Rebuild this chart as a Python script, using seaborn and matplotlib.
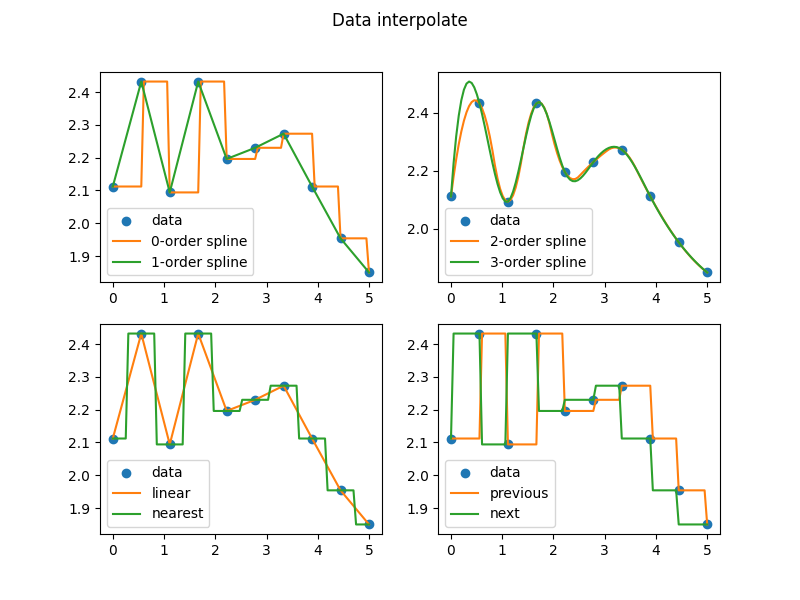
import numpy as np
import pandas as pd
import matplotlib
matplotlib.use('Agg')
import matplotlib.pyplot as plt
import seaborn as sns

# data points
x_data = [0.0, 0.5556, 1.1111, 1.6667, 2.2222, 2.7778, 3.3333, 3.8889, 4.4444, 5.0]
y_data = [2.112, 2.432, 2.094, 2.432, 2.196, 2.230, 2.273, 2.112, 1.954, 1.850]

x = np.array(x_data)
y = np.array(y_data)
xnew = np.linspace(x[0], x[-1], 100)


def bspline_basis(t, k, xs):
    B = np.zeros((len(xs), len(t) - 1))
    last = 0
    for i in range(len(t) - 1):
        if t[i] < t[i + 1]:
            B[:, i] = (xs >= t[i]) & (xs < t[i + 1])
            last = i
    B[xs >= t[-1], last] = 1.0
    for d in range(1, k + 1):
        Bn = np.zeros((len(xs), len(t) - 1 - d))
        for i in range(len(t) - 1 - d):
            left = t[i + d] - t[i]
            right = t[i + d + 1] - t[i + 1]
            term = np.zeros(len(xs))
            if left > 0:
                term += (xs - t[i]) / left * B[:, i]
            if right > 0:
                term += (t[i + d + 1] - xs) / right * B[:, i + 1]
            Bn[:, i] = term
        B = Bn
    return B


def spline(k):
    if k == 2:
        mid = (x[1:] + x[:-1]) / 2
        t = np.r_[(x[0],) * 3, mid[1:-1], (x[-1],) * 3]
    else:
        t = np.r_[(x[0],) * 4, x[2:-2], (x[-1],) * 4]
    c = np.linalg.solve(bspline_basis(t, k, x), y)
    return bspline_basis(t, k, xnew) @ c


idx_prev = np.clip(np.searchsorted(x, xnew, side='right') - 1, 0, len(x) - 1)
idx_next = np.clip(np.searchsorted(x, xnew, side='left'), 0, len(x) - 1)
mids = (x[1:] + x[:-1]) / 2
idx_near = np.searchsorted(mids, xnew, side='left')

curves = {
    '0-order spline': y[idx_prev],
    '1-order spline': np.interp(xnew, x, y),
    '2-order spline': spline(2),
    '3-order spline': spline(3),
    'linear': np.interp(xnew, x, y),
    'nearest': y[idx_near],
    'previous': y[idx_prev],
    'next': y[idx_next],
}

panels = [['0-order spline', '1-order spline'],
          ['2-order spline', '3-order spline'],
          ['linear', 'nearest'],
          ['previous', 'next']]

fig, axes = plt.subplots(2, 2, figsize=(8, 6), dpi=100)
fig.suptitle('Data interpolate')

for ax, names in zip(axes.flat, panels):
    sns.scatterplot(x=x, y=y, ax=ax, color='C0', s=36, edgecolor='C0', linewidth=1,
                    label='data', zorder=1)
    for j, name in enumerate(names):
        df = pd.DataFrame({'x': xnew, 'y': curves[name]})
        sns.lineplot(data=df, x='x', y='y', ax=ax, color='C%d' % (j + 1),
                     estimator=None, sort=False, label=name, linewidth=1.5)
    ax.set_xlabel('')
    ax.set_ylabel('')
    ax.legend(loc='lower left')

fig.savefig('out.png', dpi=100)
